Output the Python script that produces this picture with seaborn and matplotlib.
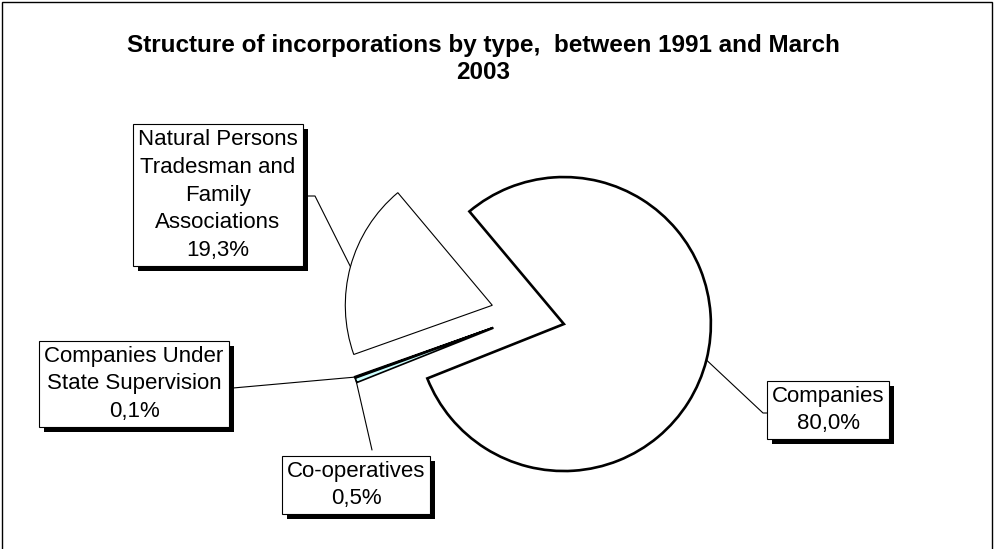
import matplotlib
matplotlib.use("Agg")
import matplotlib.pyplot as plt
from matplotlib.patches import Rectangle
import seaborn as sns
import numpy as np

# ---- data ----
categories = ["Companies", "Co-operatives", "Companies Under State Supervision",
              "Natural Persons Tradesman and Family Associations"]
shares = [80.0, 0.5, 0.1, 19.3]
label_texts = ["Companies\n80,0%", "Co-operatives\n0,5%",
               "Companies Under\nState Supervision\n0,1%",
               "Natural Persons\nTradesman and\nFamily\nAssociations\n19,3%"]
title = "Structure of incorporations by type,  between 1991 and March\n2003"

sns.set_theme(style="white")
plt.rcParams['font.family'] = ['Liberation Sans', 'DejaVu Sans']
plt.rcParams['text.color'] = 'black'

W, H = 995, 549
fig = plt.figure(figsize=(W / 100, H / 100), dpi=100)
ax = fig.add_axes([0, 0, 1, 1])

def sy(y):
    return H - y

center = (528, sy(315))
radius = 147
explode = [37, 37, 37, 37]
colors = ["white", "#CCFFFF", "white", "white"]

wedges, _ = ax.pie(shares, radius=radius, center=center, explode=explode,
                   startangle=130, counterclock=False, colors=colors,
                   frame=True)
lws = [1.9, 1.2, 1.2, 0.8]
for w, lw in zip(wedges, lws):
    w.set_edgecolor("black")
    w.set_linewidth(lw)

ax.set_xlim(0, W)
ax.set_ylim(0, H)
ax.set_aspect('auto')
ax.axis('off')

# border
ax.add_patch(Rectangle((2, -20), W - 5, H - 2 + 20, fill=False,
                       edgecolor="black", lw=1.0, zorder=0))

# title
ax.text(483, sy(59), title, ha="center", va="center", fontsize=17.5,
        fontweight="bold", linespacing=1.2)

# label boxes (centre positions in screen px) and leader-line routes
box_centres = [(828, 410), (356, 485), (134, 384), (218, 195)]
routes = [[(763, 413), (773, 413)],
          [(372, 450)],
          [(233, 388)],
          [(315, 196), (303, 196)]]

texts = []
for w, txt, (cx, cy), route in zip(wedges, label_texts, box_centres, routes):
    mid = np.deg2rad((w.theta1 + w.theta2) / 2)
    ax_x = w.center[0] + w.r * np.cos(mid)
    ax_y = w.center[1] + w.r * np.sin(mid)
    xs = [ax_x] + [p[0] for p in route]
    ys = [ax_y] + [sy(p[1]) for p in route]
    ax.plot(xs, ys, color="black", lw=0.8, zorder=3)
    t = ax.text(cx, sy(cy), txt, ha="center", va="center", fontsize=16,
                color="black", linespacing=1.42, zorder=5,
                bbox=dict(boxstyle="square,pad=0.22", fc="white", ec="black", lw=0.8))
    texts.append(t)

# drop shadows behind the label boxes
fig.canvas.draw()
inv = ax.transData.inverted()
for t in texts:
    bb = t.get_bbox_patch().get_window_extent()
    (x0, y0), (x1, y1) = inv.transform([(bb.x0, bb.y0), (bb.x1, bb.y1)])
    ax.add_patch(Rectangle((x0 + 5, y0 - 5), x1 - x0, y1 - y0,
                           fc="black", ec="black", lw=0, zorder=4))

fig.savefig("out.png", dpi=100)
